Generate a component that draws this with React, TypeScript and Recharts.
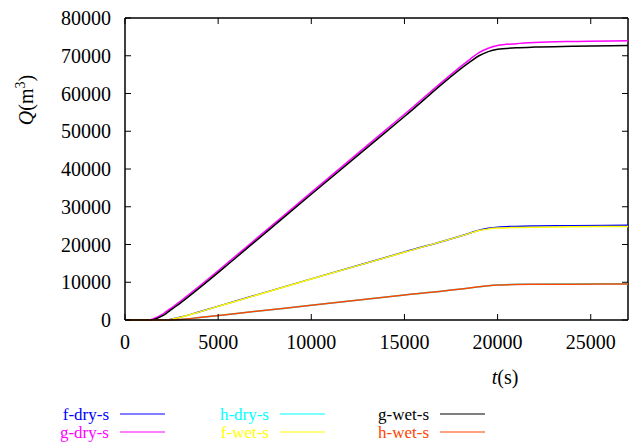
import { LineChart, Line, XAxis, YAxis, ReferenceLine } from 'recharts';

// time (s) samples shared by all series
const times = [0, 1300, 1500, 2000, 2200, 2500, 3000, 4000, 6000, 10000, 15000, 18500, 19000, 19500, 20000, 21000, 22000, 24000, 27000];

// Q (m^3)
const fDryS = [0, 0, 0, 0, 0, 250, 800, 2200, 5100, 10900, 18000, 23000, 23800, 24300, 24600, 24800, 24900, 25000, 25100];
const gDryS = [0, 0, 300, 1500, 2200, 3200, 5100, 9000, 17200, 33800, 54500, 69000, 70800, 72000, 72700, 73200, 73500, 73800, 74000];
const hDryS = [0, 0, 0, 0, 0, 0, 150, 650, 1750, 3900, 6600, 8500, 8800, 9100, 9300, 9450, 9500, 9550, 9600];
const fWetS = [0, 0, 0, 0, 0, 200, 750, 2150, 5050, 10850, 17950, 22950, 23700, 24100, 24350, 24500, 24600, 24700, 24800];
const gWetS = [0, 0, 100, 1100, 1700, 2800, 4600, 8500, 16700, 33300, 53900, 68300, 70000, 71100, 71700, 72100, 72300, 72500, 72700];
const hWetS = [0, 0, 0, 0, 0, 0, 150, 650, 1750, 3900, 6600, 8500, 8800, 9050, 9250, 9400, 9450, 9500, 9550];

const seriesNames = ['f-dry-s', 'g-dry-s', 'h-dry-s', 'f-wet-s', 'g-wet-s', 'h-wet-s'];
const seriesColors = ['#0000ff', '#ff00ff', '#00ffff', '#ffff00', '#000000', '#ff4500'];
const seriesValues = [fDryS, gDryS, hDryS, fWetS, gWetS, hWetS];

const xTicks = [0, 5000, 10000, 15000, 20000, 25000];
const yTicks = [0, 10000, 20000, 30000, 40000, 50000, 60000, 70000, 80000];

const data = times.map((t, i) => {
  const row: Record<string, number> = { t };
  seriesNames.forEach((name, k) => {
    row[name] = seriesValues[k][i];
  });
  return row;
});

const W = 637;
const H = 448;
const PLOT_LEFT = 125;
const PLOT_TOP = 18;
const PLOT_RIGHT = 628;
const PLOT_BOTTOM = 320;
const XAXIS_H = 40;
const FONT = 'Liberation Serif';
const fontCss = `#root svg text, #root svg tspan { font-family: "Liberation Serif", "Times New Roman", serif !important; }`;

// gnuplot-style ticks: pointing inward, mirrored on the opposite side
const YTick = (props: any) => {
  const { y, payload } = props;
  return (
    <g>
      <line x1={PLOT_LEFT} x2={PLOT_LEFT + 6} y1={y} y2={y} stroke="#000" />
      <line x1={PLOT_RIGHT - 6} x2={PLOT_RIGHT} y1={y} y2={y} stroke="#000" />
      <text x={PLOT_LEFT - 14} y={y} dy={7} textAnchor="end" fontFamily={FONT} fontSize={20} fill="#000">
        {payload.value}
      </text>
    </g>
  );
};

const XTick = (props: any) => {
  const { x, payload } = props;
  return (
    <g>
      <line x1={x} x2={x} y1={PLOT_BOTTOM} y2={PLOT_BOTTOM - 6} stroke="#000" />
      <line x1={x} x2={x} y1={PLOT_TOP} y2={PLOT_TOP + 6} stroke="#000" />
      <text x={x} y={PLOT_BOTTOM + 29} textAnchor="middle" fontFamily={FONT} fontSize={20} fill="#000">
        {payload.value}
      </text>
    </g>
  );
};

const legendCols = [109, 269, 429];
const legendRows = [414, 432];

export default function App() {
  return (
    <div style={{ position: 'absolute', left: 0, top: 0, width: W, height: H, background: '#fff' }}>
      <style>{fontCss}</style>
      <LineChart
        width={W}
        height={H}
        data={data}
        margin={{ top: PLOT_TOP, right: W - PLOT_RIGHT, bottom: H - PLOT_BOTTOM - XAXIS_H, left: 0 }}
      >
        <XAxis
          dataKey="t"
          type="number"
          domain={[0, 27000]}
          ticks={xTicks}
          allowDataOverflow
          height={XAXIS_H}
          tick={<XTick />}
          tickLine={false}
          axisLine={{ stroke: '#000', strokeWidth: 1.5 }}
        />
        <YAxis
          type="number"
          domain={[0, 80000]}
          ticks={yTicks}
          width={PLOT_LEFT}
          tick={<YTick />}
          tickLine={false}
          axisLine={{ stroke: '#000', strokeWidth: 1.5 }}
        />
        <ReferenceLine y={80000} stroke="#000" strokeWidth={1.5} />
        <ReferenceLine x={27000} stroke="#000" strokeWidth={1.5} />
        {seriesNames.map((name, k) => (
          <Line
            key={name}
            type="monotone"
            dataKey={name}
            stroke={seriesColors[k]}
            strokeWidth={1.5}
            dot={false}
            isAnimationActive={false}
          />
        ))}
      </LineChart>

      <svg width={W} height={H} style={{ position: 'absolute', left: 0, top: 0, pointerEvents: 'none' }}>
        <text transform="translate(33,100) rotate(-90)" textAnchor="middle" fontFamily={FONT} fontSize={20} fill="#000">
          <tspan fontStyle="italic">Q</tspan>
          <tspan>(m</tspan>
          <tspan dy={-8} fontSize={14}>3</tspan>
          <tspan dy={8}>)</tspan>
        </text>
        <text x={505} y={384} textAnchor="middle" fontFamily={FONT} fontSize={20} fill="#000">
          <tspan fontStyle="italic">t</tspan>
          <tspan>(s)</tspan>
        </text>
        {seriesNames.map((name, k) => {
          const col = legendCols[Math.floor(k / 2)];
          const rowY = legendRows[k % 2];
          return (
            <g key={name}>
              <text x={col} y={rowY + 6} textAnchor="end" fontFamily={FONT} fontSize={17} fill={seriesColors[k]}>
                {name}
              </text>
              <line x1={col + 11} x2={col + 56} y1={rowY} y2={rowY} stroke={seriesColors[k]} strokeWidth={1.2} />
            </g>
          );
        })}
      </svg>
    </div>
  );
}
